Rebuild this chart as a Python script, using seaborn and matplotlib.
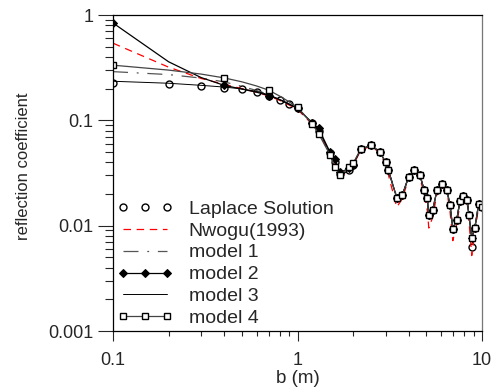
import numpy as np
import pandas as pd
import matplotlib
matplotlib.use("Agg")
import matplotlib.pyplot as plt
import seaborn as sns

# wave reflection coefficient vs. width b
b = [0.1, 0.2, 0.3, 0.4, 0.5, 0.6, 0.7, 0.8, 0.9, 1.0,
     1.2, 1.3, 1.5, 1.6, 1.7, 1.9, 2.0, 2.2, 2.5, 2.8,
     3.0, 3.1, 3.45, 3.7, 4.0, 4.3, 4.6, 4.85, 5.05, 5.15,
     5.4, 5.7, 6.05, 6.45, 6.7, 6.95, 7.3, 7.6, 7.9, 8.3,
     8.5, 8.8, 9.15, 9.6, 10.0]

laplace = [0.225, 0.219, 0.21, 0.203, 0.197, 0.185, 0.172, 0.157, 0.142, 0.13,
           0.094, 0.08, 0.0485, 0.04, 0.031, 0.034, 0.038, 0.053, 0.058, 0.05,
           0.04, 0.034, 0.0185, 0.0195, 0.029, 0.034, 0.0305, 0.022, 0.0185, 0.0125,
           0.014, 0.0216, 0.025, 0.022, 0.0158, 0.0094, 0.0114, 0.0173, 0.0193, 0.0177,
           0.0125, 0.0063, 0.0096, 0.0162, 0.0149]

nwogu = [0.54, 0.32, 0.25, 0.22, 0.2, 0.185, 0.17, 0.155, 0.14, 0.127,
         0.092, 0.078, 0.047, 0.038, 0.029, 0.033, 0.037, 0.052, 0.057, 0.049,
         0.038, 0.031, 0.015, 0.018, 0.028, 0.033, 0.029, 0.02, 0.014, 0.0095,
         0.012, 0.02, 0.024, 0.021, 0.014, 0.0072, 0.0105, 0.016, 0.0185, 0.017,
         0.011, 0.0052, 0.0085, 0.0155, 0.0145]

model1 = [0.29, 0.272, 0.252, 0.232, 0.21, 0.192, 0.176, 0.159, 0.143, 0.13,
          0.093, 0.079, 0.048, 0.039, 0.031, 0.034, 0.038, 0.053, 0.058, 0.05,
          0.04, 0.034, 0.019, 0.0195, 0.029, 0.034, 0.0305, 0.022, 0.0185, 0.0125,
          0.014, 0.0216, 0.025, 0.022, 0.0158, 0.0094, 0.0114, 0.0173, 0.0193, 0.0177,
          0.0125, 0.0077, 0.0096, 0.0162, 0.0149]

model2 = [0.84, 0.36, 0.255, 0.215, 0.198, 0.185, 0.172, 0.157, 0.142, 0.13,
          0.095, 0.084, 0.05, 0.0425, 0.032, 0.035, 0.038, 0.053, 0.058, 0.05,
          0.04, 0.034, 0.0185, 0.0195, 0.029, 0.034, 0.0305, 0.022, 0.0185, 0.0125,
          0.014, 0.0216, 0.025, 0.022, 0.0158, 0.0094, 0.0114, 0.0173, 0.0193, 0.0177,
          0.0125, 0.0077, 0.0096, 0.0162, 0.0149]

model3 = [0.235, 0.225, 0.215, 0.207, 0.199, 0.188, 0.175, 0.158, 0.143, 0.13,
          0.094, 0.081, 0.049, 0.04, 0.029, 0.034, 0.038, 0.053, 0.058, 0.05,
          0.04, 0.034, 0.0185, 0.0195, 0.029, 0.034, 0.0305, 0.022, 0.0185, 0.0125,
          0.014, 0.0216, 0.025, 0.022, 0.0158, 0.0094, 0.0114, 0.0173, 0.0193, 0.0177,
          0.0125, 0.0077, 0.0096, 0.0162, 0.0149]

model4 = [0.334, 0.3, 0.275, 0.253, 0.232, 0.212, 0.193, 0.17, 0.15, 0.133,
          0.093, 0.075, 0.047, 0.0357, 0.03, 0.036, 0.039, 0.053, 0.058, 0.05,
          0.04, 0.034, 0.0185, 0.0195, 0.029, 0.034, 0.0305, 0.022, 0.0185, 0.0125,
          0.014, 0.0216, 0.025, 0.022, 0.0158, 0.0094, 0.0114, 0.0173, 0.0193, 0.0177,
          0.0125, 0.0077, 0.0096, 0.0162, 0.0149]

labels = ["Laplace Solution", "Nwogu(1993)", "model 1", "model 2", "model 3", "model 4"]

df = pd.DataFrame({"b": b, "Laplace Solution": laplace, "Nwogu(1993)": nwogu,
                   "model 1": model1, "model 2": model2, "model 3": model3,
                   "model 4": model4})

sns.set_style("ticks")
plt.rcParams['font.family'] = ['Liberation Sans', 'DejaVu Sans']

fig = plt.figure(figsize=(4.97, 3.87), dpi=100)
ax = fig.add_axes([0.2274, 0.1447, 0.9698 - 0.2274, 0.9612 - 0.1447])

# markers on the sparse points at small b, every point after b = 1
marked = [0, 3, 6, 9] + list(range(10, len(b)))

styles = {
    "Laplace Solution": dict(color="black", linestyle="none", marker="o", markersize=5,
                             markerfacecolor="white", markeredgecolor="black", markeredgewidth=1.0),
    "Nwogu(1993)": dict(color="red", linestyle=(0, (6, 4.5)), linewidth=0.9),
    "model 1": dict(color="#555555", linestyle=(0, (12, 7, 1.5, 7)), linewidth=0.9),
    "model 2": dict(color="black", linewidth=0.9, marker="D", markersize=4.5,
                    markerfacecolor="black", markeredgecolor="black", markevery=marked),
    "model 3": dict(color="black", linewidth=0.7),
    "model 4": dict(color="#444444", linewidth=0.9, marker="s", markersize=5,
                    markerfacecolor="white", markeredgecolor="black", markeredgewidth=1.0,
                    markevery=marked),
}

for name in labels:
    sns.lineplot(data=df, x="b", y=name, ax=ax, label=name, **styles[name])

ax.set_xscale("log")
ax.set_yscale("log")
ax.set_xlim(0.1, 10)
ax.set_ylim(0.001, 1)
ax.set_xticks([0.1, 1, 10])
ax.set_xticklabels(["0.1", "1", "10"])
ax.set_yticks([0.001, 0.01, 0.1, 1])
ax.set_yticklabels(["0.001", "0.01", "0.1", "1"])
ax.tick_params(axis="x", which="major", length=7, width=0.8, pad=8, labelsize=13, direction="out")
ax.tick_params(axis="x", which="minor", length=3.5, width=0.8, direction="out")
ax.tick_params(axis="y", which="major", length=11, width=0.8, pad=3, labelsize=13, direction="out")
ax.tick_params(axis="y", which="minor", length=6, width=0.8, direction="out")
ax.yaxis.set_minor_formatter(matplotlib.ticker.NullFormatter())
ax.xaxis.set_minor_formatter(matplotlib.ticker.NullFormatter())

for s in ax.spines.values():
    s.set_linewidth(0.9)
    s.set_color("black")
ax.spines["right"].set_color("#777777")

ax.set_xlabel("b (m)", fontsize=13.5, labelpad=1)
ax.set_ylabel("reflection coefficient", fontsize=12)
ax.yaxis.set_label_coords(-0.222, 0.52)

ax.legend(loc="lower left", frameon=False, numpoints=3, fontsize=14,
          handlelength=2.9, handletextpad=0.8, labelspacing=0.22,
          borderpad=0.2, borderaxespad=0.0, bbox_to_anchor=(0.0, 0.0))

fig.savefig("out.png", dpi=100)
